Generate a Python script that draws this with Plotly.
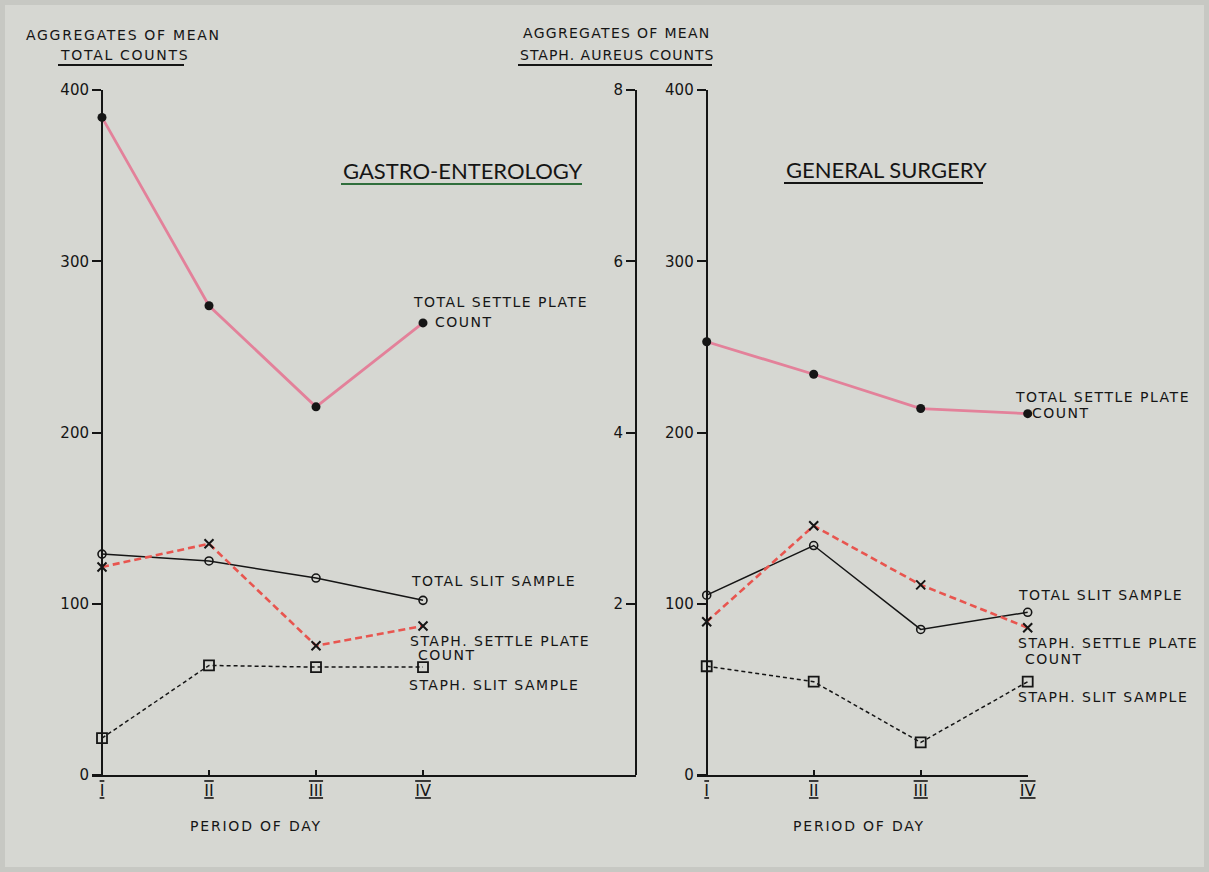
import plotly.graph_objects as go

# ---------------- data ----------------
periods = [1, 2, 3, 4]
period_labels = ["I", "II", "III", "IV"]

# Gastro-enterology (totals on 0-400 axis, staph on 0-8 axis)
ge_total_settle = [384, 274, 215, 264]
ge_total_slit = [129, 125, 115, 102]
ge_staph_settle = [2.43, 2.70, 1.51, 1.74]
ge_staph_slit = [0.43, 1.28, 1.26, 1.26]

# General surgery
gs_total_settle = [253, 234, 214, 211]
gs_total_slit = [105, 134, 85, 95]
gs_staph_settle = [1.79, 2.91, 2.22, 1.72]
gs_staph_slit = [1.27, 1.09, 0.38, 1.09]

total_ticks = [0, 100, 200, 300, 400]
staph_ticks = [2, 4, 6, 8]

# ---------------- layout helpers ----------------
W, H = 1209, 872


def px(x):
    return x / W


def py(y):
    return 1 - y / H


PINK = "#e3819a"
RED = "#e8554f"
INK = "#151515"
BG = "#d6d7d2"
LABEL_FONT = dict(family="DejaVu Sans", size=14, color=INK)
TICK_FONT = dict(family="DejaVu Sans", size=15, color=INK)


def spaced(t, sp=1.2):
    return '<span style="letter-spacing:%.1fpx">%s</span>' % (sp, t)


fig = go.Figure()


def add_panel(xa, ya_tot, ya_st, tot_settle, tot_slit, st_settle, st_slit):
    fig.add_trace(go.Scatter(
        x=periods, y=tot_settle, xaxis=xa, yaxis=ya_tot, mode="lines+markers",
        cliponaxis=False, line=dict(color=PINK, width=2.8),
        marker=dict(symbol="circle", size=9, color=INK)))
    fig.add_trace(go.Scatter(
        x=periods, y=tot_slit, xaxis=xa, yaxis=ya_tot, mode="lines+markers",
        cliponaxis=False, line=dict(color=INK, width=1.5),
        marker=dict(symbol="circle-open", size=8, color=INK, line=dict(width=1.6))))
    fig.add_trace(go.Scatter(
        x=periods, y=st_settle, xaxis=xa, yaxis=ya_st, mode="lines+markers",
        cliponaxis=False, line=dict(color=RED, width=2.6, dash="7px,4px"),
        marker=dict(symbol="x-thin-open", size=9, color=INK, line=dict(width=2, color=INK))))
    fig.add_trace(go.Scatter(
        x=periods, y=st_slit, xaxis=xa, yaxis=ya_st, mode="lines+markers",
        cliponaxis=False, line=dict(color=INK, width=1.5, dash="4px,3px"),
        marker=dict(symbol="square-open", size=10, color=INK, line=dict(width=1.8))))


add_panel("x", "y", "y2", ge_total_settle, ge_total_slit, ge_staph_settle, ge_staph_slit)
add_panel("x2", "y3", "y4", gs_total_settle, gs_total_slit, gs_staph_settle, gs_staph_slit)

roman = ['<span style="text-decoration:underline overline">%s</span>' % r for r in period_labels]

UNIT = 107.0
common_x = dict(tickvals=periods, ticktext=roman, showline=True, linecolor=INK,
                linewidth=2, ticks="inside", ticklen=5, tickwidth=2, tickcolor=INK,
                showgrid=False, zeroline=False,
                tickfont=dict(family="DejaVu Sans", size=16, color=INK))
common_y = dict(showline=True, linecolor=INK, linewidth=2, ticks="outside", ticklen=9,
                tickwidth=2, tickcolor=INK, showgrid=False, zeroline=False, tickfont=TICK_FONT)

ydom = [py(775), py(90)]

fig.update_layout(
    width=W, height=H, showlegend=False, autosize=False,
    margin=dict(l=0, r=0, t=0, b=0, pad=0, autoexpand=False),
    paper_bgcolor=BG, plot_bgcolor="rgba(0,0,0,0)",
    xaxis=dict(domain=[px(92), px(636)], anchor="y",
               range=[1 - 10 / UNIT, 1 - 10 / UNIT + 544 / UNIT], **common_x),
    yaxis=dict(domain=ydom, anchor="free", position=px(102), range=[0, 400],
               tickvals=total_ticks, **common_y),
    yaxis2=dict(overlaying="y", anchor="free", position=px(636), side="left",
                range=[0, 8], tickvals=staph_ticks, **common_y),
    xaxis2=dict(domain=[px(697), px(1028)], anchor="y3",
                range=[1 - 9.7 / UNIT, 1 - 9.7 / UNIT + 331 / UNIT], **common_x),
    yaxis3=dict(domain=ydom, anchor="free", position=px(706.7), range=[0, 400],
                tickvals=total_ticks, **common_y),
    yaxis4=dict(overlaying="y3", anchor="x2", range=[0, 8], visible=False),
)

annots = []


def lab(x, y, text, font=None, xanchor="left", sp=1.5):
    annots.append(dict(x=px(x), y=py(y), xref="paper", yref="paper",
                       text=spaced(text, sp) if sp else text,
                       showarrow=False, xanchor=xanchor, yanchor="middle",
                       font=font or LABEL_FONT))


# axis headings
lab(24, 35, "AGGREGATES OF MEAN", sp=1.7)
lab(58, 55, "TOTAL COUNTS", sp=1.7)
lab(521, 33, "AGGREGATES OF MEAN", sp=1.3)
lab(518, 55, "STAPH. AUREUS COUNTS", sp=1.0)

# panel titles
TITLE_FONT = dict(family="Lato", size=22, color=INK)
lab(341, 171, "GASTRO-ENTEROLOGY", TITLE_FONT, sp=0)
lab(784, 169, "GENERAL SURGERY", TITLE_FONT, sp=0)

# series labels - left panel
lab(411, 302, "TOTAL SETTLE PLATE")
lab(433, 322, "COUNT")
lab(409, 581, "TOTAL SLIT SAMPLE")
lab(408, 641, "STAPH. SETTLE PLATE")
lab(416, 655, "COUNT")
lab(407, 685, "STAPH. SLIT SAMPLE")

# series labels - right panel
lab(1013, 397, "TOTAL SETTLE PLATE")
lab(1030, 413, "COUNT")
lab(1016, 595, "TOTAL SLIT SAMPLE")
lab(1016, 643, "STAPH. SETTLE PLATE")
lab(1023, 659, "COUNT")
lab(1016, 697, "STAPH. SLIT SAMPLE")

# x-axis titles
lab(256, 826, "PERIOD OF DAY", xanchor="center", sp=1.8)
lab(859, 826, "PERIOD OF DAY", xanchor="center", sp=1.8)

fig.update_layout(annotations=annots)

shapes = []


def uline(x0, x1, y, color=INK, w=2):
    shapes.append(dict(type="line", xref="paper", yref="paper", x0=px(x0), x1=px(x1),
                       y0=py(y), y1=py(y), line=dict(color=color, width=w)))


uline(58, 184, 65)
uline(518, 712, 65)
uline(341, 582, 184, color="#2f6e3c", w=2)
uline(784, 983, 183)
shapes.append(dict(type="rect", xref="paper", yref="paper", x0=0, x1=1, y0=0, y1=1,
                   line=dict(color="#c7c8c3", width=10), fillcolor="rgba(0,0,0,0)"))
fig.update_layout(shapes=shapes)

fig.write_html(
    "out.html",
    config={"displayModeBar": False},
    post_script="document.body.style.margin='0';document.body.style.overflow='hidden';",
)
